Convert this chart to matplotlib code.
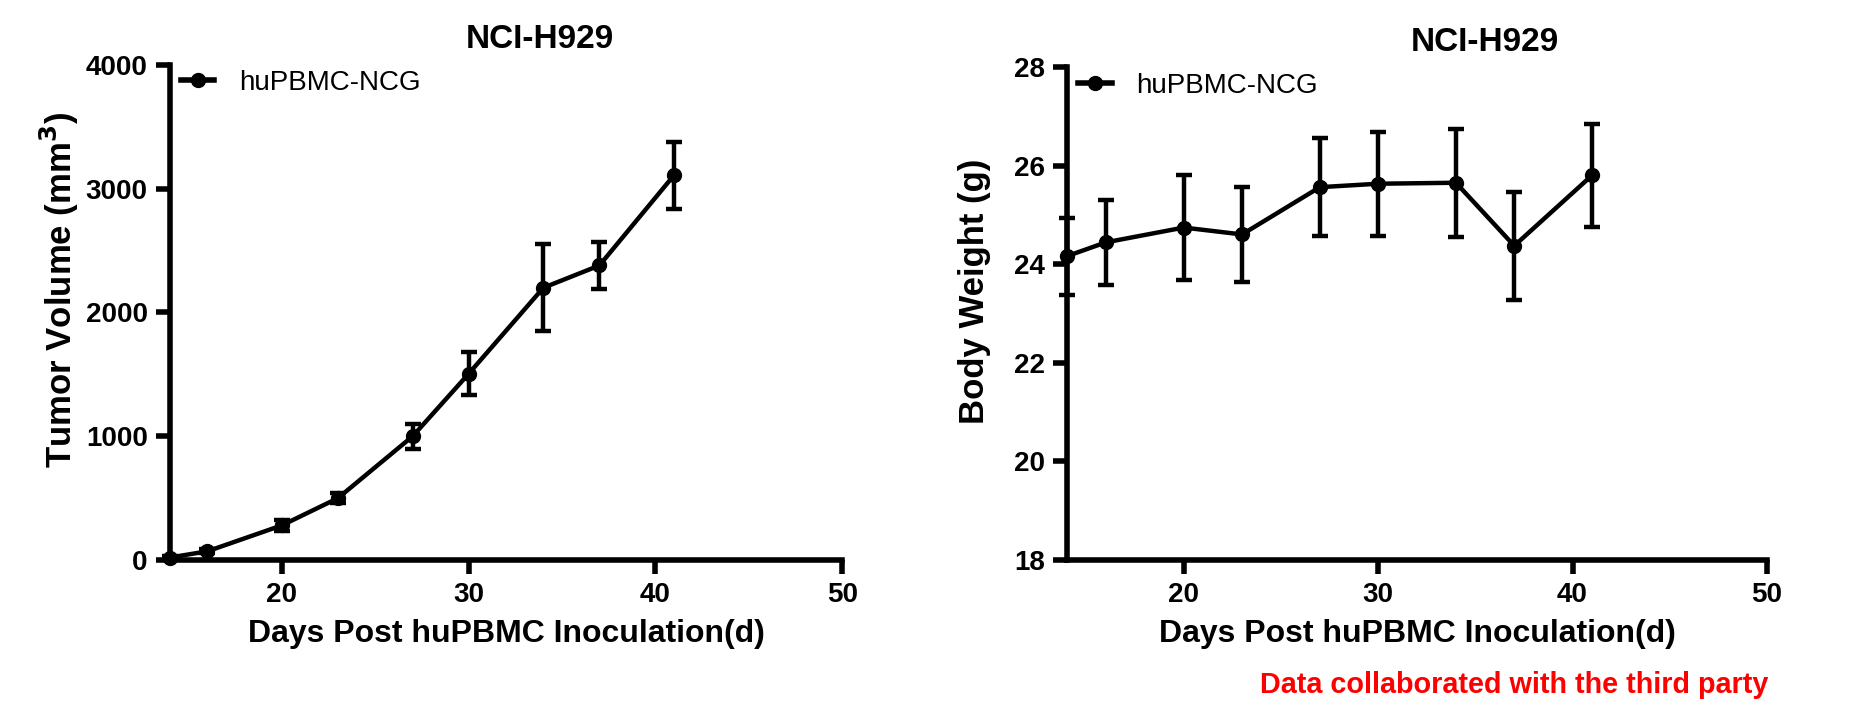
import matplotlib.pyplot as plt
from matplotlib.lines import Line2D

plt.rcParams['font.family'] = ['Liberation Sans', 'DejaVu Sans']

# 数据
days = [14, 16, 20, 23, 27, 30, 34, 37, 41]
tumor_mean = [20, 70, 280, 500, 1000, 1505, 2200, 2380, 3110]
tumor_err = [10, 15, 45, 40, 100, 175, 350, 190, 270]
weight_mean = [24.17, 24.45, 24.75, 24.61, 25.57, 25.64, 25.66, 24.38, 25.81]
weight_err = [0.78, 0.86, 1.07, 0.97, 1.0, 1.06, 1.1, 1.1, 1.05]

fig = plt.figure(figsize=(18.59, 7.12), dpi=100)
ax1 = fig.add_axes([0.0914, 0.2135, 0.3616, 0.6952])
ax2 = fig.add_axes([0.574, 0.2135, 0.3765, 0.6917])


def style(ax, ylabel, title_x, ylabel_x):
    for s in ['top', 'right']:
        ax.spines[s].set_visible(False)
    for s in ['left', 'bottom']:
        ax.spines[s].set_linewidth(4)
    ax.tick_params(width=4, length=10, labelsize=20, direction='out', pad=6)
    for lab in ax.get_xticklabels() + ax.get_yticklabels():
        lab.set_fontweight('bold')
    ax.set_xlim(14, 50)
    ax.set_xticks([20, 30, 40, 50])
    ax.set_xlabel('Days Post huPBMC Inoculation(d)', fontsize=23, fontweight='bold', labelpad=8)
    ax.set_ylabel(ylabel, fontsize=25, fontweight='bold', va='center')
    ax.yaxis.set_label_coords(ylabel_x, 0.545)
    ax.set_title('NCI-H929', fontsize=24, fontweight='bold', pad=12, x=title_x)
    h = Line2D([], [], color='black', lw=4, marker='o', ms=10)
    ax.legend([h], ['huPBMC-NCG'], loc='upper left', frameon=False, fontsize=20,
              handlelength=1.2, handletextpad=0.9, borderaxespad=0.0,
              bbox_to_anchor=(0.0, 1.012))


ax1.errorbar(days, tumor_mean, yerr=tumor_err, color='black', lw=3.2, marker='o',
             ms=10, capsize=6, elinewidth=3.2, capthick=3.2, clip_on=False)
ax1.set_ylim(0, 4000)
ax1.set_yticks([0, 1000, 2000, 3000, 4000])
style(ax1, 'Tumor Volume (mm$^\\mathbf{3}$)', 0.55, -0.164)

ax2.errorbar(days, weight_mean, yerr=weight_err, color='black', lw=3.2, marker='o',
             ms=10, capsize=6, elinewidth=3.2, capthick=3.2, clip_on=False)
ax2.set_ylim(18, 28)
ax2.set_yticks([18, 20, 22, 24, 26, 28])
style(ax2, 'Body Weight (g)', 0.597, -0.132)

fig.text(0.951, 0.018, 'Data collaborated with the third party', color='red',
         fontsize=20.7, fontweight='bold', ha='right', va='bottom')

fig.savefig('out.png', dpi=100)
